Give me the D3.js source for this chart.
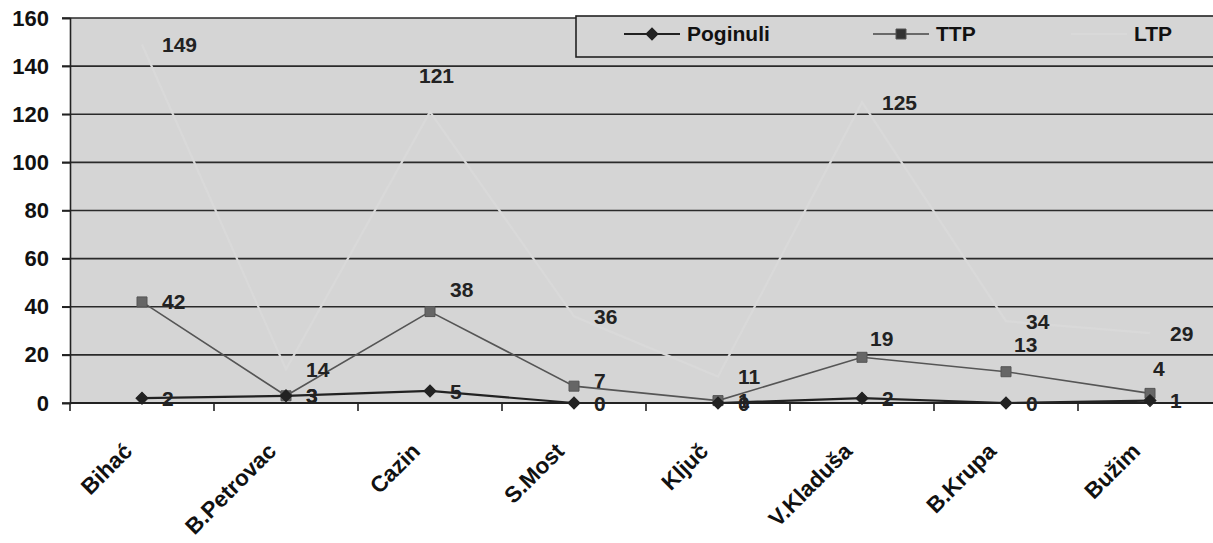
<!DOCTYPE html>
<html><head><meta charset="utf-8">
<script src="https://cdn.jsdelivr.net/npm/d3@7"></script>
<style>body{margin:0;background:#fff}svg{display:block;font-family:"Liberation Sans",Arial,sans-serif}</style>
</head><body><svg id="c" width="1213" height="543"></svg>
<script>
const categories = ["Bihać","B.Petrovac","Cazin","S.Most","Ključ","V.Kladuša","B.Krupa","Bužim"];
const poginuli = [2,3,5,0,0,2,0,1];
const ttp = [42,3,38,7,1,19,13,4];
const ltp = [149,14,121,36,11,125,34,29];
const yTicks = [0,20,40,60,80,100,120,140,160];
const seriesNames = ["Poginuli","TTP","LTP"];

// label nudges (styling only) : [dx, dy] relative to point
const nudge = {
  "LTP|Cazin":[-11,-36],
  "TTP|Cazin":[20,-22], "TTP|S.Most":[20,-6], "TTP|V.Kladuša":[8,-19], "TTP|B.Krupa":[8,-27], "TTP|Bužim":[3,-25]
};

const bg = "#d5d5d5";
const hidden = "#d9d9d9";
const svg = d3.select("#c");
const left = 70, bw = 144;
const x = d3.scaleBand().domain(categories).range([left, left + bw*categories.length]).padding(0);
const cx = c => x(c) + x.bandwidth()/2;
const y = d3.scaleLinear().domain([0,160]).range([403,18]);

// plot background
svg.append("rect").attr("x",left).attr("y",y(160)).attr("width",1213-left+20).attr("height",y(0)-y(160)).attr("fill",bg);

// gridlines
svg.append("g").selectAll("line").data(yTicks).join("line")
  .attr("x1",62).attr("x2",1230).attr("y1",d=>y(d)).attr("y2",d=>y(d))
  .attr("stroke","#2a2a2a").attr("stroke-width",1.6);

// y axis
const ya = svg.append("g").attr("transform",`translate(${left},0)`).call(d3.axisLeft(y).tickValues(yTicks).tickSize(8).tickPadding(12));
ya.select(".domain").attr("stroke","#222").attr("stroke-width",1.6);
ya.selectAll(".tick line").attr("stroke","#222").attr("stroke-width",1.6);
ya.selectAll("text").attr("font-size",22).attr("font-weight","bold").attr("fill","#111").attr("x",-21);

// x axis ticks at boundaries
const bounds = d3.range(categories.length+1).map(i=>left+i*bw);
svg.append("g").selectAll("line").data(bounds).join("line")
  .attr("x1",d=>d).attr("x2",d=>d).attr("y1",y(0)).attr("y2",y(0)+8)
  .attr("stroke","#222").attr("stroke-width",1.6);
svg.append("line").attr("x1",left).attr("x2",1230).attr("y1",y(0)).attr("y2",y(0)).attr("stroke","#222").attr("stroke-width",2);

// category labels
svg.append("g").selectAll("text").data(categories).join("text")
  .attr("transform",d=>`translate(${cx(d)-14},${y(0)+44}) rotate(-45)`)
  .attr("text-anchor","end").attr("dy","0.35em")
  .attr("font-size",22.5).attr("font-weight","bold").attr("fill","#111").text(d=>d);

const line = d3.line().x(d=>cx(d.c)).y(d=>y(d.v));
const mk = arr => categories.map((c,i)=>({c, v:arr[i]}));
const series = [
  {name:"LTP", data:mk(ltp), color:hidden, width:2.2, marker:null},
  {name:"TTP", data:mk(ttp), color:"#555", width:1.6, marker:"square"},
  {name:"Poginuli", data:mk(poginuli), color:"#222", width:2.2, marker:"diamond"}
];
const sq = d3.symbol().type(d3.symbolSquare);
const drawMarker = (sel, type) => {
  if (type==="square") sel.attr("d", sq.size(100)()).attr("fill","#666").attr("stroke","#555");
  else sel.attr("d", sq.size(72)()).attr("fill","#222").attr("stroke","#222");
};

series.forEach(s=>{
  svg.append("path").datum(s.data).attr("d",line).attr("fill","none").attr("stroke",s.color).attr("stroke-width",s.width);
  if (s.marker) {
    const m = svg.append("g").selectAll("path").data(s.data).join("path")
      .attr("transform",d=>`translate(${cx(d.c)},${y(d.v)})` + (s.marker==="diamond"?" rotate(45)":""));
    drawMarker(m, s.marker);
  }
});
series.slice().reverse().forEach(s=>{
  svg.append("g").selectAll("text").data(s.data).join("text")
    .attr("x",d=>cx(d.c)+((nudge[s.name+"|"+d.c]||[20,0])[0]))
    .attr("y",d=>y(d.v)+((nudge[s.name+"|"+d.c]||[20,0])[1]))
    .attr("dy","0.36em").attr("font-size",21).attr("font-weight","bold").attr("fill","#222")
    .text(d=>d.v);
});

// legend
const lg = svg.append("g");
lg.append("rect").attr("x",576).attr("y",16).attr("width",700).attr("height",41)
  .attr("fill",bg).attr("stroke","#222").attr("stroke-width",1.6);
const legItems = [
  {name:"Poginuli", x0:624, color:"#222", marker:"diamond", w:2.2},
  {name:"TTP", x0:873, color:"#444", marker:"square", w:1.6},
  {name:"LTP", x0:1071, color:hidden, marker:null, w:2.2}
];
legItems.forEach(it=>{
  const ly = 34;
  lg.append("line").attr("x1",it.x0).attr("x2",it.x0+56).attr("y1",ly).attr("y2",ly).attr("stroke",it.color).attr("stroke-width",it.w);
  if (it.marker) {
    const m = lg.append("path").attr("transform",`translate(${it.x0+28},${ly})` + (it.marker==="diamond"?" rotate(45)":""));
    drawMarker(m, it.marker);
    if (it.marker==="square") m.attr("fill","#333");
  }
  lg.append("text").attr("x",it.x0+63).attr("y",ly).attr("dy","0.35em").attr("font-size",21).attr("font-weight","bold").attr("fill","#111").text(it.name);
});
</script></body></html>
